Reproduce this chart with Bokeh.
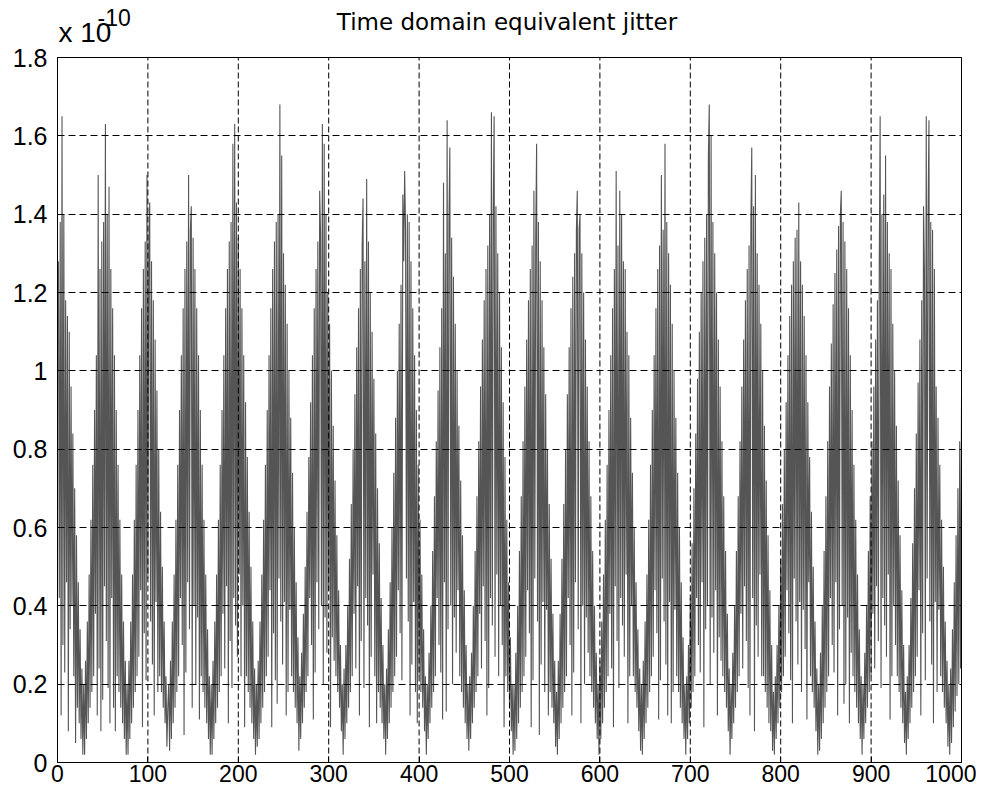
from bokeh.plotting import figure
from bokeh.models import Range1d, FixedTicker, Label
from bokeh.embed import file_html
from bokeh.resources import INLINE

# ---- data (jitter in units of 1e-12 s) ----
seg_00 = [128,42,138,12,165,30,140,23,118,46,114,8,110,34,96,40,84,22,70,5,58,14,46,10,34,6,24,2]
cyc_01 = [20,2,26,6,36,10,48,14,62,18,76,22,90,38,104,12,150,24,126,8,133,16,138,45,163,31,140,19,147,10,126,42,116,14,104,8,90,22,76,18,62,14,48,10,36,6,26,2]
cyc_02 = [20,2,26,6,36,10,48,14,62,18,76,22,90,27,104,44,116,9,126,33,133,21,150,47,132,143,36,128,25,118,12,108,41,95,18,80,22,64,18,50,14,36,10,22,4,14]
cyc_03 = [20,3,26,6,36,10,48,14,62,18,76,22,90,42,104,30,116,7,126,23,133,46,150,34,136,142,14,134,40,126,20,116,37,104,11,90,22,76,18,62,14,48,10,34,6,22,2]
cyc_04 = [20,2,26,6,36,10,48,14,62,18,76,22,90,38,104,24,116,45,126,10,133,31,138,19,158,42,163,35,143,27,134,48,126,22,116,40,104,9,92,22,78,18,64,14,50,10,36,6,24]
cyc_05 = [2,20,4,26,6,36,10,48,14,62,18,76,22,90,27,104,44,116,9,126,33,133,21,138,15,140,47,168,36,155,25,130,41,122,12,112,18,100,39,88,22,74,18,60,14,46,10,32]
cyc_06 = [3,22,6,28,10,38,14,50,18,64,22,78,42,92,30,104,11,116,23,126,46,133,34,146,135,40,163,20,158,37,140,28,120,44,112,9,100,32,86,26,72,22,58,18,44,14,30,8,20]
cyc_07 = [2,24,6,30,10,40,14,52,18,66,22,80,38,94,24,106,45,116,12,126,31,132,144,19,128,42,149,35,133,9,120,27,110,48,98,22,84,10,70,18,56,14,42,10,30,6,20]
cyc_08 = [2,24,6,34,10,46,14,60,18,74,22,88,27,100,44,112,33,122,21,145,128,151,136,47,140,36,138,12,128,25,116,41,104,18,90,10,76,22,62,18,48,14,34,8,22]
cyc_09 = [2,20,6,28,10,40,14,54,18,68,22,82,42,95,30,106,23,116,11,148,46,130,13,164,34,138,157,40,134,20,124,37,112,28,100,44,86,22,72,18,58,14,44,10,30,6,20,3]
cyc_10 = [22,6,28,10,40,14,54,18,68,22,82,38,96,24,108,45,118,31,126,12,132,19,140,42,166,35,140,165,27,142,48,130,22,120,40,106,30,92,9,78,22,62,18,46,14,32,8,20,2]
cyc_11 = [20,3,28,6,40,10,54,14,68,18,82,22,96,27,108,44,118,33,126,9,132,21,146,47,134,158,36,138,7,128,25,118,41,106,18,94,39,80,12,66,18,52,14,38,10,26,4]
cyc_12 = [18,2,26,6,38,10,52,14,66,18,80,22,94,42,106,30,116,12,124,23,130,46,136,146,34,136,140,10,130,40,120,20,108,37,96,28,82,22,68,18,54,14,40,10,28,6]
cyc_13 = [20,2,26,6,36,10,48,14,62,18,76,22,90,38,104,24,116,9,126,45,151,31,132,19,146,42,140,35,128,27,126,48,110,10,104,22,88,40,74,22,60,18,46,14,34,8,24,3]
cyc_14 = [20,2,26,6,36,10,48,14,62,18,76,22,90,27,104,44,116,33,126,11,132,21,150,47,136,36,158,25,138,12,130,41,122,10,112,18,100,39,88,22,74,18,60,14,46,10,32,6,20]
cyc_15 = [2,22,6,30,10,42,14,56,18,70,22,84,42,98,30,110,23,120,46,128,9,134,34,140,40,155,168,20,160,37,138,28,130,44,120,12,108,32,96,26,82,22,68,18,54,14,38,8,24]
cyc_16 = [2,20,6,28,10,40,14,54,18,68,22,82,38,96,24,108,45,118,31,126,19,132,12,138,157,42,142,8,150,35,130,27,122,48,112,22,100,22,86,18,72,14,58,10,44,8,30,3,18]
cyc_17 = [2,22,6,30,10,40,14,52,18,66,22,80,27,92,44,104,33,114,21,122,10,128,47,134,36,136,25,143,41,128,18,122,39,114,29,104,11,92,46,78,22,64,18,50,14,36,8,24,2]
cyc_18 = [20,3,28,6,40,10,54,14,68,18,82,22,96,42,107,30,117,23,125,46,131,12,137,34,140,146,40,138,15,133,20,126,37,116,10,104,28,90,22,76,18,62,14,48,10,34,6,22]
cyc_19 = [2,20,6,28,10,40,14,54,18,68,22,82,38,96,24,108,45,118,31,126,165,19,140,42,145,35,155,27,138,48,130,11,126,22,112,40,100,30,86,22,72,18,58,14,44,10,30,5,18]
cyc_20 = [2,22,6,30,10,42,14,56,18,70,22,84,27,97,44,108,12,118,33,142,126,21,165,47,140,164,36,138,25,136,10,126,41,96,18,88,39,76,22,62,18,50,14,36,10,26,4,20]
seg_end = [2,24,5,34,9,46,13,58,17,70,20,82,24,93]

segments = [seg_00, cyc_01, cyc_02, cyc_03, cyc_04, cyc_05, cyc_06, cyc_07, cyc_08, cyc_09, cyc_10,
            cyc_11, cyc_12, cyc_13, cyc_14, cyc_15, cyc_16, cyc_17, cyc_18, cyc_19, cyc_20, seg_end]
jitter_e12 = [v for s in segments for v in s]
sample_index = list(range(1, len(jitter_e12) + 1))
jitter_e10 = [v / 100 for v in jitter_e12]   # in units of 1e-10 s

x_ticks = [0, 100, 200, 300, 400, 500, 600, 700, 800, 900, 1000]
y_ticks = [0, 0.2, 0.4, 0.6, 0.8, 1, 1.2, 1.4, 1.6, 1.8]
y_tick_labels = ["0", "0.2", "0.4", "0.6", "0.8", "1", "1.2", "1.4", "1.6", "1.8"]

title_text = "Time domain equivalent jitter"
exp_base = "x 10"
exp_power = "-10"

# ---- layout constants (pixels) ----
W, H = 976, 791
FRAME_LEFT, FRAME_RIGHT = 57, 961        # x = 0 and x = 1000
AXIS_TOP, FRAME_BOTTOM = 57, 762         # y = 1.8 and y = 0 (frame itself reaches the canvas top)
X_MIN, X_MAX = x_ticks[0], x_ticks[-1]
Y_MIN, Y_MAX = y_ticks[0], y_ticks[-1]
px_per_y = (FRAME_BOTTOM - AXIS_TOP) / (Y_MAX - Y_MIN)
px_per_x = (FRAME_RIGHT - FRAME_LEFT) / (X_MAX - X_MIN)
Y_TOP = Y_MIN + FRAME_BOTTOM / px_per_y   # data value at the canvas top


def dx(page_x):
    return X_MIN + (page_x - FRAME_LEFT) / px_per_x


def dy(page_y):
    return Y_MIN + (FRAME_BOTTOM - page_y) / px_per_y


TICK_FONT = "Liberation Sans"

p = figure(width=W, height=H, output_backend="svg", toolbar_location=None, title=None,
           x_range=Range1d(X_MIN, X_MAX), y_range=Range1d(Y_MIN, Y_TOP),
           min_border_left=FRAME_LEFT, min_border_right=W - FRAME_RIGHT,
           min_border_top=0, min_border_bottom=H - FRAME_BOTTOM,
           background_fill_color="white", border_fill_color="white")
p.outline_line_color = None

p.line(sample_index, jitter_e10, line_color="#555555", line_width=1.1)

# axes
for ax in (p.xaxis[0], p.yaxis[0]):
    ax.axis_line_color = "black"
    ax.major_tick_line_color = "black"
    ax.major_tick_in = 6
    ax.major_tick_out = 0
    ax.minor_tick_line_color = None
    ax.major_label_text_font = TICK_FONT
    ax.major_label_text_color = "black"

p.xaxis[0].ticker = FixedTicker(ticks=x_ticks)
p.yaxis[0].ticker = FixedTicker(ticks=y_ticks)
p.yaxis[0].bounds = (Y_MIN, Y_MAX)
p.yaxis[0].major_label_overrides = dict(zip(y_ticks, y_tick_labels))
p.xaxis[0].major_label_text_font_size = "23px"
p.yaxis[0].major_label_text_font_size = "25px"
p.xaxis[0].major_label_standoff = 2
p.yaxis[0].major_label_standoff = 10

# grid: horizontal lines from the axis grid, vertical ones limited to the axes box
p.xgrid.visible = False
p.ygrid.ticker = FixedTicker(ticks=y_ticks)
p.ygrid.grid_line_color = "black"
p.ygrid.grid_line_dash = "7 4"
p.ygrid.level = "annotation"
inner_x = x_ticks[1:-1]
p.segment(x0=inner_x, y0=[Y_MIN] * len(inner_x), x1=inner_x, y1=[Y_MAX] * len(inner_x),
          line_color="black", line_width=1, line_dash="6 3", level="annotation")

# axes box (top and right edges)
p.quad(left=[X_MIN], right=[X_MAX], bottom=[Y_MIN], top=[Y_MAX],
       fill_color=None, line_color="black", line_width=1, level="annotation")

# title and multiplier
p.add_layout(Label(x=dx(506.5), y=dy(21), text=title_text, text_align="center",
                   text_baseline="alphabetic", text_font="DejaVu Sans", text_font_size="23px",
                   text_color="black"))
p.add_layout(Label(x=dx(58), y=dy(32), text=exp_base, text_align="left",
                   text_baseline="alphabetic", text_font=TICK_FONT, text_font_size="28px",
                   text_color="black"))
p.add_layout(Label(x=dx(97), y=dy(17), text=exp_power, text_align="left",
                   text_baseline="alphabetic", text_font=TICK_FONT, text_font_size="23px",
                   text_color="black"))

open("out.html", "w").write(file_html(p, INLINE))
